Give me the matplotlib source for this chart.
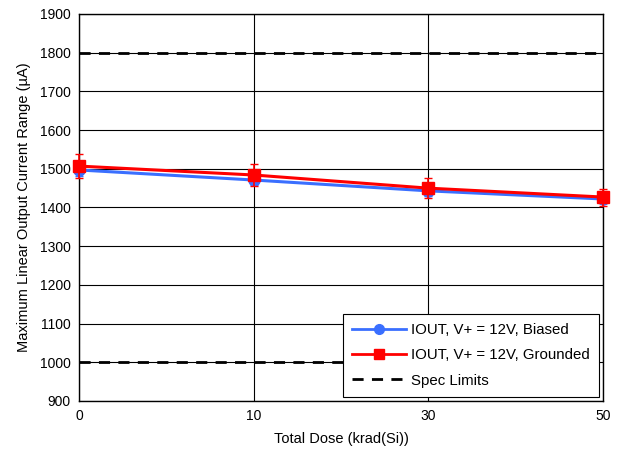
import matplotlib
matplotlib.use("Agg")
import matplotlib.pyplot as plt
from matplotlib.lines import Line2D

plt.rcParams['font.family'] = ['Liberation Sans', 'DejaVu Sans']

doses = ["0", "10", "30", "50"]
biased = [1497, 1471, 1443, 1422]
biased_err = [15, 14, 12, 11]
grounded = [1507, 1484, 1450, 1427]
grounded_err = [30, 28, 25, 22]
spec_limits = [1000, 1800]

BLUE = '#3a6fff'
RED = '#ff0000'

fig = plt.figure(figsize=(6.23, 4.55), dpi=100)
ax = fig.add_axes([79/623, 1 - 401/455, (603-79)/623, (401-14)/455])

x = list(range(len(doses)))
ax.errorbar(x, biased, yerr=biased_err, color=BLUE, lw=2.2, marker='o', ms=8,
            capsize=3, elinewidth=1.2, clip_on=False, zorder=4)
ax.errorbar(x, grounded, yerr=grounded_err, color=RED, lw=2.2, marker='s', ms=9,
            capsize=3, elinewidth=1.2, clip_on=False, zorder=5)
for s in spec_limits:
    ax.axhline(s, color='black', lw=2, ls=(0, (4, 3)), zorder=3)

ax.set_xlim(0, len(doses) - 1)
ax.set_xticks(x)
ax.set_xticklabels(doses)
ax.set_ylim(900, 1900)
ax.set_yticks(range(900, 2000, 100))
ax.grid(True, color='black', lw=0.8)
ax.tick_params(length=0, labelsize=10, pad=6)
for sp in ax.spines.values():
    sp.set_linewidth(1)
ax.set_xlabel('Total Dose (krad(Si))', fontsize=10.5, labelpad=6)
ax.set_ylabel('Maximum Linear Output Current Range (µA)', fontsize=10.5, labelpad=6)

handles = [
    Line2D([], [], color=BLUE, lw=2, marker='o', ms=7),
    Line2D([], [], color=RED, lw=2, marker='s', ms=7),
    Line2D([], [], color='black', lw=2, ls=(0, (4, 3))),
]
labels = ['IOUT, V+ = 12V, Biased', 'IOUT, V+ = 12V, Grounded', 'Spec Limits']
leg = ax.legend(handles, labels, loc='lower right', fontsize=10.8, frameon=True,
                fancybox=False, edgecolor='black', framealpha=1,
                borderaxespad=0.3, handlelength=3.6, handletextpad=0.3,
                labelspacing=0.75, borderpad=0.6)
leg.get_frame().set_linewidth(0.8)

fig.savefig('out.png', dpi=100)
